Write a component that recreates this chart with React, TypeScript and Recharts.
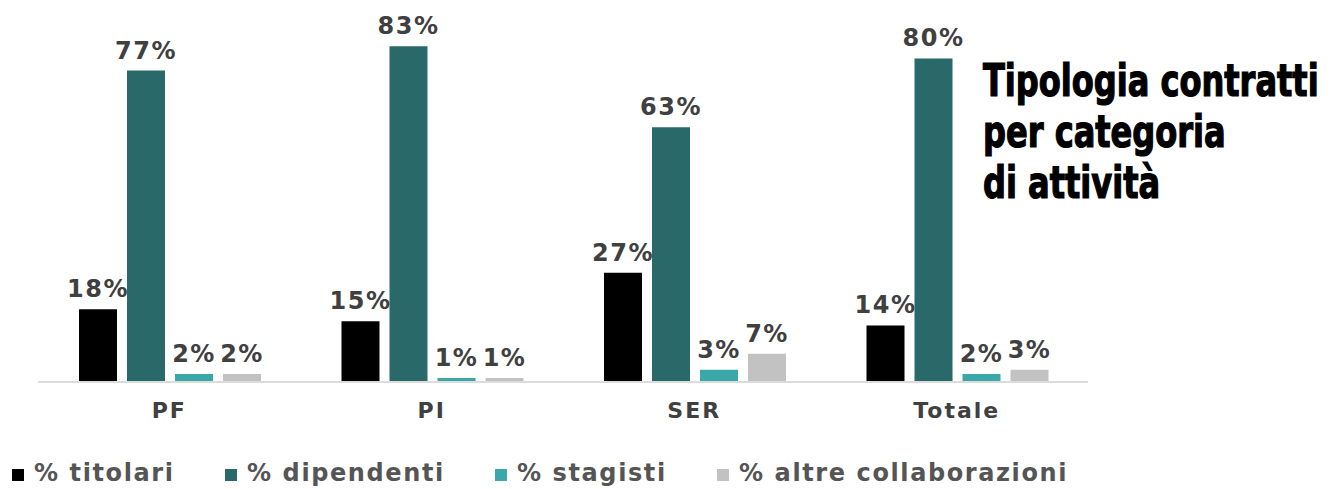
import { BarChart, Bar, XAxis, YAxis, LabelList } from 'recharts';

const categories = ['PF', 'PI', 'SER', 'Totale'];
const titolari = [18, 15, 27, 14];
const dipendenti = [77, 83, 63, 80];
const stagisti = [2, 1, 3, 2];
const altre = [2, 1, 7, 3];

const seriesNames = ['% titolari', '% dipendenti', '% stagisti', '% altre collaborazioni'];
const seriesKeys = ['titolari', 'dipendenti', 'stagisti', 'altre'];
const seriesColors = ['#000000', '#296969', '#3aa7a9', '#c2c2c2'];
const legendLeft = [12, 225, 495, 717];

const titleLines = ['Tipologia contratti', 'per categoria', 'di attività'];

const data = categories.map((c, i) => ({
  name: c,
  titolari: titolari[i],
  dipendenti: dipendenti[i],
  stagisti: stagisti[i],
  altre: altre[i],
}));

const FONT = '"DejaVu Sans", Verdana, sans-serif';
const LABEL_COLOR = '#404040';

export default function App() {
  return (
    <div style={{ position: 'absolute', left: 0, top: 0, width: 1331, height: 489, background: '#fff', fontFamily: FONT }}>
      <BarChart
        width={1100}
        height={430}
        data={data}
        margin={{ top: 18, right: 12, left: 38, bottom: 8 }}
        barCategoryGap={41}
        barGap={10}
      >
        <XAxis
          dataKey="name"
          height={40}
          tickLine={false}
          axisLine={{ stroke: '#dcdcdc', strokeWidth: 2 }}
          tick={{ fill: LABEL_COLOR, fontSize: 22, fontWeight: 'bold', fontFamily: FONT, letterSpacing: 2, dy: 12 }}
        />
        <YAxis hide domain={[0, 90]} />
        {seriesKeys.map((k, i) => (
          <Bar key={k} dataKey={k} name={seriesNames[i]} fill={seriesColors[i]} isAnimationActive={false}>
            <LabelList
              dataKey={k}
              position="top"
              offset={12}
              formatter={(v: number) => `${v}%`}
              style={{ fill: LABEL_COLOR, fontSize: 24, fontWeight: 'bold', fontFamily: FONT, letterSpacing: 1.5 }}
            />
          </Bar>
        ))}
      </BarChart>

      <svg style={{ position: 'absolute', left: 0, top: 0 }} width={1331} height={489} pointerEvents="none">
        {titleLines.map((t, i) => (
          <g key={t} transform={`translate(983, ${96 + i * 51}) scale(0.81, 1)`}>
            <text
              x={0}
              y={0}
              fontFamily='"DejaVu Sans Condensed", "DejaVu Sans", sans-serif'
              fontWeight="bold"
              fontSize={44}
              fill="#000"
              stroke="#000"
              strokeWidth={1.2}
            >
              {t}
            </text>
          </g>
        ))}
      </svg>

      {seriesNames.map((n, i) => (
        <div
          key={n}
          style={{ position: 'absolute', left: legendLeft[i], top: 459, display: 'flex', alignItems: 'baseline' }}
        >
          <span style={{ display: 'inline-block', width: 12, height: 12, background: seriesColors[i], marginRight: 10 }} />
          <span style={{ fontSize: 24, fontWeight: 'bold', color: '#555', letterSpacing: 1.6, lineHeight: '28px', whiteSpace: 'nowrap' }}>
            {n}
          </span>
        </div>
      ))}
    </div>
  );
}
